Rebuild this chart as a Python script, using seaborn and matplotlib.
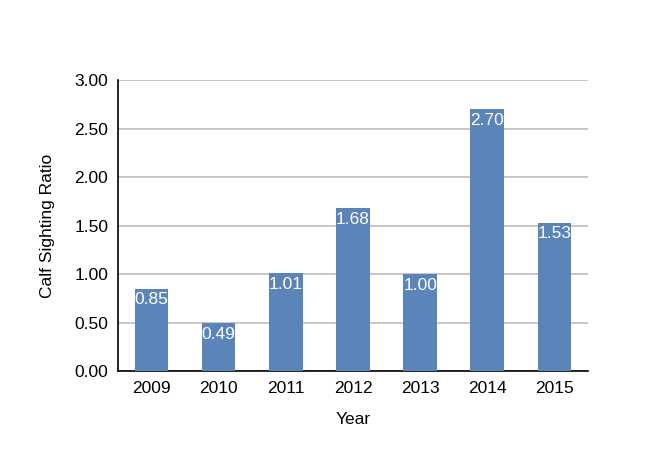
import pandas as pd
import matplotlib.pyplot as plt
import seaborn as sns

years = ['2009', '2010', '2011', '2012', '2013', '2014', '2015']
ratios = [0.85, 0.49, 1.01, 1.68, 1.00, 2.70, 1.53]

df = pd.DataFrame({'Year': years, 'Ratio': ratios})

sns.set_style('white')
plt.rcParams['font.family'] = ['Liberation Sans', 'DejaVu Sans']

fig = plt.figure(figsize=(6.5, 4.71), dpi=100)
ax = fig.add_axes([0.1815, 0.2123, 0.7231, 0.6178])

sns.barplot(data=df, x='Year', y='Ratio', color='#5b84b8', saturation=1,
            width=0.5, linewidth=0, ax=ax, zorder=3)

ax.set_ylim(0, 3)
ax.set_yticks([0, 0.5, 1, 1.5, 2, 2.5, 3])
ax.set_yticklabels([f'{v:.2f}' for v in ax.get_yticks()])
ax.yaxis.grid(True, color='#bdbdbd', linewidth=1.2, zorder=0)
ax.set_axisbelow(True)

for s in ['top', 'right']:
    ax.spines[s].set_visible(False)
for s in ['left', 'bottom']:
    ax.spines[s].set_color('black')
    ax.spines[s].set_linewidth(1.2)

ax.tick_params(axis='both', length=0, labelsize=12.5, labelcolor='black', pad=7)
ax.set_xlabel('Year', fontsize=12.5, color='black', labelpad=12)
ax.set_ylabel('Calf Sighting Ratio', fontsize=12.5, color='black', labelpad=14)

for p, v in zip(ax.patches, ratios):
    ax.text(p.get_x() + p.get_width() / 2, v - 0.04, f'{v:.2f}',
            ha='center', va='top', color='white', fontsize=12.5, zorder=4)

fig.savefig('out.png', dpi=100)
